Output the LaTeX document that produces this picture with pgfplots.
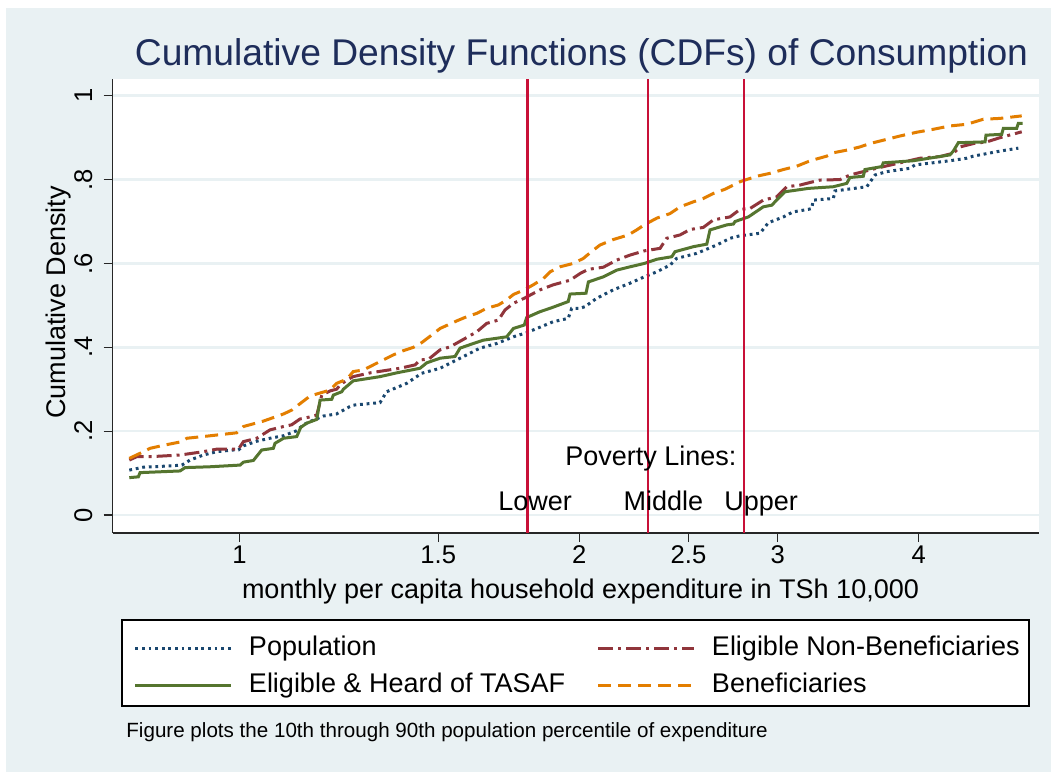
\documentclass[border=0pt]{standalone}
\usepackage{pgfplots}
\pgfplotsset{compat=1.18}
\usepackage{fontspec}
\setmainfont{Liberation Sans}

\definecolor{bgblue}{RGB}{233,241,243}
\definecolor{gridc}{RGB}{233,241,243}
\definecolor{stnavy}{RGB}{26,71,111}
\definecolor{stmaroon}{RGB}{144,53,59}
\definecolor{stgreen}{RGB}{85,117,47}
\definecolor{storange}{RGB}{227,126,0}
\definecolor{povred}{RGB}{200,16,56}
\definecolor{titleblue}{RGB}{30,45,90}

\newcommand{\midfont}{\fontsize{13.5}{16}\selectfont}

\begin{document}
\begin{tikzpicture}[x=1pt,y=1pt]
\useasboundingbox (0,0) rectangle (525.5,386);
\fill[white] (0,0) rectangle (525.5,386);
\fill[bgblue] (3,0) rectangle (525.5,382);
\node[anchor=base, text=titleblue, font=\fontsize{18.6}{22}\selectfont] at (290.75,353)
  {Cumulative Density Functions (CDFs) of Consumption};
% legend frame
\fill[white, draw=black, line width=0.6pt] (61,33) rectangle (514.5,76);
\node[anchor=base west, inner sep=0pt, font=\fontsize{10.3}{12}\selectfont] at (63,17)
  {Figure plots the 10th through 90th population percentile of expenditure};

\begin{axis}[
  at={(56.35pt,119.5pt)}, anchor=south west,
  scale only axis, width=463.15pt, height=227pt,
  xmode=log, xmin=0.772, xmax=5.112, ymin=-0.043, ymax=1.040,
  axis lines=left, axis line style={-, black!85, line width=0.6pt},
  axis background/.style={fill=white},
  xtick={1,1.5,2,2.5,3,4}, xticklabels={1,1.5,2,2.5,3,4},
  minor xtick={},
  ytick={0,0.2,0.4,0.6,0.8,1}, yticklabels={0,.2,.4,.6,.8,1},
  tick align=outside, major tick length=4.5pt,
  tick style={black!85, line width=0.6pt},
  ymajorgrids, grid style={gridc, line width=1.3pt},
  /pgf/number format/assume math mode=true,
  tick label style={font=\fontsize{12.8}{15}\selectfont},
  xticklabel style={anchor=north, inner sep=0pt, yshift=-1.5pt},
  yticklabel style={xshift=-5.8pt, rotate=90, anchor=base, inner sep=0pt},
  xlabel={monthly per capita household expenditure in TSh 10,000},
  xlabel style={at={(axis description cs:0.505,-0.145)}, anchor=base, font=\midfont, inner sep=0pt},
  ylabel={Cumulative Density},
  ylabel style={at={(axis description cs:-0.0505,0.5077)}, anchor=base, font=\midfont, inner sep=0pt},
  legend image code/.code={\draw[#1] (0pt,0pt) -- (48pt,0pt);},
  legend style={at={(axis description cs:0.0230,-0.2247)}, anchor=north west,
    draw=none, fill=none, legend columns=2, font=\midfont,
    inner sep=0pt, outer sep=0pt, row sep=5.5pt,
    nodes={inner sep=0pt, text height=10pt, text depth=3pt},
    cells={anchor=west},
    /tikz/every odd column/.append style={column sep=8pt}},
]

\addplot[stnavy, line width=1.5pt, dash pattern=on 1.4pt off 1.9pt] coordinates {
(0.7986,0.107) (0.8218,0.114) (0.8678,0.117) (0.889,0.119) (0.9039,0.131) (0.9288,0.143)
(0.9545,0.151) (0.9874,0.155) (0.9976,0.155) (1.008,0.165) (1.0357,0.176) (1.0642,0.183)
(1.094,0.189) (1.1238,0.201) (1.139,0.215) (1.155,0.223) (1.1865,0.236) (1.219,0.241)
(1.236,0.25) (1.2512,0.258) (1.261,0.262) (1.332,0.268) (1.350,0.294) (1.4067,0.314)
(1.450,0.338) (1.506,0.35) (1.547,0.366) (1.590,0.382) (1.6337,0.398) (1.690,0.409)
(1.749,0.425) (1.797,0.435) (1.8466,0.448) (1.897,0.461) (1.956,0.469) (1.970,0.493)
(2.0036,0.493) (2.024,0.497) (2.073,0.517) (2.144,0.537) (2.219,0.553) (2.284,0.568)
(2.343,0.58) (2.4075,0.596) (2.440,0.612) (2.542,0.624) (2.648,0.644) (2.721,0.66)
(2.777,0.666) (2.893,0.672) (2.942,0.697) (3.034,0.711) (3.096,0.723) (3.192,0.729)
(3.215,0.731) (3.225,0.751) (3.360,0.755) (3.371,0.773) (3.597,0.783) (3.658,0.811)
(3.746,0.819) (3.929,0.827) (3.969,0.835) (4.263,0.845) (4.411,0.851) (4.471,0.856)
(4.721,0.868) (4.901,0.875)};
\addlegendentry{\makebox[174pt][l]{Population}}

\addplot[stmaroon, line width=1.5pt, dash pattern=on 7.5pt off 2.5pt on 1.5pt off 2.5pt] coordinates {
(0.7986,0.131) (0.8107,0.139) (0.833,0.139) (0.8857,0.143) (0.9288,0.151) (0.9545,0.157)
(0.9976,0.157) (1.008,0.175) (1.0357,0.183) (1.0642,0.203) (1.094,0.211) (1.112,0.215)
(1.1314,0.229) (1.1507,0.233) (1.1707,0.238) (1.1827,0.286) (1.203,0.296) (1.219,0.300)
(1.2277,0.310) (1.245,0.322) (1.261,0.33) (1.3052,0.339) (1.3876,0.35) (1.4307,0.358)
(1.4454,0.37) (1.470,0.371) (1.506,0.394) (1.5367,0.401) (1.5844,0.421) (1.623,0.437)
(1.656,0.457) (1.696,0.465) (1.719,0.489) (1.749,0.505) (1.788,0.517) (1.8466,0.537)
(1.897,0.549) (1.9632,0.56) (2.0036,0.576) (2.038,0.586) (2.101,0.591) (2.159,0.608)
(2.219,0.62) (2.284,0.63) (2.359,0.636) (2.391,0.66) (2.457,0.668) (2.508,0.681)
(2.577,0.686) (2.630,0.704) (2.721,0.711) (2.777,0.729) (2.834,0.731) (2.912,0.751)
(2.993,0.759) (3.055,0.783) (3.139,0.787) (3.192,0.792) (3.270,0.799) (3.406,0.80)
(3.476,0.811) (3.572,0.819) (3.695,0.829) (3.850,0.84) (4.010,0.851) (4.177,0.855)
(4.292,0.863) (4.351,0.878) (4.471,0.886) (4.595,0.89) (4.721,0.90) (4.935,0.914)};
\addlegendentry{Eligible Non-Beneficiaries}

\addplot[stgreen, line width=1.5pt] coordinates {
(0.7986,0.089) (0.8134,0.091) (0.8162,0.101) (0.8857,0.105) (0.8947,0.113) (0.9416,0.115)
(1.001,0.119) (1.008,0.126) (1.0286,0.13) (1.0464,0.155) (1.0714,0.159) (1.0751,0.171)
(1.094,0.183) (1.1238,0.187) (1.133,0.209) (1.147,0.219) (1.1707,0.228) (1.1786,0.274)
(1.2071,0.276) (1.211,0.286) (1.232,0.294) (1.236,0.30) (1.2486,0.31) (1.261,0.32)
(1.332,0.33) (1.378,0.339) (1.4454,0.35) (1.4653,0.363) (1.506,0.374) (1.5524,0.378)
(1.5683,0.398) (1.6114,0.409) (1.6447,0.417) (1.725,0.425) (1.749,0.445) (1.788,0.453)
(1.797,0.471) (1.8466,0.485) (1.885,0.493) (1.956,0.509) (1.9632,0.527) (2.028,0.529)
(2.038,0.556) (2.101,0.568) (2.159,0.584) (2.219,0.592) (2.284,0.60) (2.343,0.61)
(2.416,0.616) (2.432,0.628) (2.525,0.64) (2.595,0.646) (2.612,0.68) (2.703,0.692)
(2.740,0.694) (2.749,0.70) (2.825,0.711) (2.912,0.735) (2.963,0.739) (3.003,0.755)
(3.044,0.771) (3.118,0.775) (3.192,0.779) (3.360,0.783) (3.453,0.791) (3.476,0.805)
(3.572,0.808) (3.584,0.824) (3.709,0.831) (3.721,0.84) (3.956,0.845) (4.263,0.859)
(4.292,0.868) (4.336,0.888) (4.579,0.89) (4.588,0.906) (4.737,0.908) (4.753,0.922)
(4.884,0.922) (4.901,0.934) (4.944,0.934)};
\addlegendentry{\makebox[174pt][l]{Eligible \& Heard of TASAF}}

\addplot[storange, line width=1.5pt, dash pattern=on 6.5pt off 3.5pt] coordinates {
(0.7986,0.135) (0.819,0.149) (0.833,0.159) (0.859,0.167) (0.889,0.175) (0.898,0.183)
(0.935,0.188) (0.994,0.196) (1.008,0.211) (1.050,0.224) (1.094,0.241) (1.112,0.25)
(1.155,0.284) (1.203,0.298) (1.219,0.314) (1.245,0.324) (1.261,0.342) (1.2875,0.346)
(1.314,0.358) (1.369,0.382) (1.397,0.392) (1.426,0.40) (1.450,0.411) (1.480,0.429)
(1.506,0.445) (1.558,0.463) (1.590,0.473) (1.623,0.481) (1.656,0.493) (1.696,0.501)
(1.725,0.513) (1.749,0.526) (1.788,0.537) (1.821,0.549) (1.859,0.564) (1.885,0.58)
(1.924,0.592) (1.976,0.60) (2.017,0.612) (2.059,0.632) (2.087,0.644) (2.144,0.657)
(2.211,0.668) (2.249,0.68) (2.284,0.692) (2.343,0.708) (2.4075,0.719) (2.457,0.735)
(2.525,0.747) (2.577,0.755) (2.630,0.767) (2.693,0.777) (2.740,0.787) (2.777,0.795)
(2.873,0.808) (2.953,0.815) (3.034,0.824) (3.118,0.832) (3.192,0.843) (3.225,0.847)
(3.315,0.856) (3.360,0.864) (3.464,0.871) (3.548,0.878) (3.621,0.886) (3.721,0.894)
(3.850,0.904) (3.983,0.913) (4.120,0.92) (4.263,0.928) (4.411,0.932) (4.563,0.944)
(4.721,0.946) (4.935,0.952)};
\addlegendentry{Beneficiaries}

% poverty lines
\addplot[povred, line width=1.1pt, forget plot] coordinates {(1.8,-0.043) (1.8,1.04)};
\addplot[povred, line width=1.1pt, forget plot] coordinates {(2.3,-0.043) (2.3,1.04)};
\addplot[povred, line width=1.1pt, forget plot] coordinates {(2.8,-0.043) (2.8,1.04)};

\node[anchor=base, font=\midfont] at (axis cs:2.315,0.119) {Poverty Lines:};
\node[anchor=base, font=\midfont] at (axis cs:1.828,0.0095) {Lower};
\node[anchor=base, font=\midfont] at (axis cs:2.375,0.0095) {Middle};
\node[anchor=base, font=\midfont] at (axis cs:2.899,0.0095) {Upper};
\end{axis}
\end{tikzpicture}
\end{document}
